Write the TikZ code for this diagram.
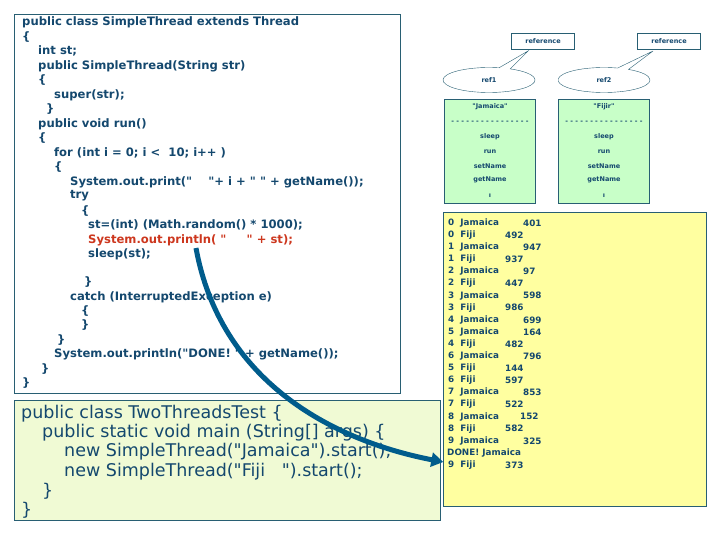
\documentclass[tikz,border=0pt]{standalone}
\usepackage{fontspec}
\newfontfamily\codefont{DejaVu Sans}
\usetikzlibrary{shapes.geometric,shapes.callouts,arrows.meta}
\definecolor{codeblue}{RGB}{20,72,110}
\definecolor{codered}{RGB}{205,55,30}
\definecolor{boxline}{RGB}{40,95,115}
\definecolor{objgreen}{RGB}{200,255,200}
\definecolor{maingreen}{RGB}{240,250,212}
\definecolor{outyellow}{RGB}{255,255,160}
\definecolor{arrowblue}{RGB}{0,92,140}
\tikzset{
  code/.style={anchor=west,inner sep=0,font=\codefont\bfseries\fontsize{11.6}{12}\selectfont,text=codeblue},
  maincode/.style={anchor=west,inner sep=0,font=\codefont\fontsize{17.5}{18}\selectfont,text=codeblue},
  outtxt/.style={anchor=west,inner sep=0,font=\codefont\bfseries\fontsize{8.8}{10}\selectfont,text=codeblue},
  objtxt/.style={inner sep=0,font=\codefont\bfseries\fontsize{6.5}{8}\selectfont,text=codeblue},
  refbox/.style={draw=boxline,fill=white,minimum width=63pt,minimum height=16pt,inner sep=0,font=\codefont\bfseries\fontsize{6.5}{8}\selectfont,text=codeblue},
  refcall/.style={ellipse callout,draw=boxline,fill=white,minimum width=92pt,minimum height=25pt,inner sep=0,font=\codefont\bfseries\fontsize{6.5}{8}\selectfont,text=codeblue},
}
\begin{document}
\begin{tikzpicture}[x=1pt,y=-1pt]
\useasboundingbox (0,0) rectangle (720,540);
% boxes
\draw[boxline,fill=white] (14,14) rectangle (400,393);
\draw[boxline,fill=maingreen] (14,400) rectangle (440,520);
\node[draw=boxline,fill=outyellow,minimum width=263pt,minimum height=294pt,inner sep=0] (out) at (575,359) {};
% SimpleThread class
\node[code] (l1) at (22,22) {public class SimpleThread extends Thread};
\node[code] (l2) at (22,37) {\{};
\node[code] (l3) at (38,51) {int st;};
\node[code] (l4) at (38,66) {public SimpleThread(String str)};
\node[code] (l5) at (38,80) {\{};
\node[code] (l6) at (54,95) {super(str);};
\node[code] (l7) at (46,109) {\}};
\node[code] (l8) at (38,124) {public void run()};
\node[code] (l9) at (38,138) {\{};
\node[code] (l10) at (54,153) {for (int i = 0; i <\ \ 10; i++ )};
\node[code] (l11) at (54,167) {\{};
\node[code] (l12) at (70,182) {System.out.print("\ \ \ \ "+ i + " " + getName());};
\node[code] (l13) at (70,196) {try};
\node[code] (l14) at (81,211) {\{};
\node[code] (l15) at (88,225) {st=(int) (Math.random() * 1000);};
\node[code,text=codered] (l16) at (88,240) {System.out.println( "\ \ \ \ \ " + st);};
\node[code] (l17) at (88,254) {sleep(st);};
\node[code] (l18) at (84,282) {\}};
\node[code] (l19) at (70,297) {catch (InterruptedException e)};
\node[code] (l20) at (81,311) {\{};
\node[code] (l21) at (81,325) {\}};
\node[code] (l22) at (57,340) {\}};
\node[code] (l23) at (54,354) {System.out.println("DONE! " + getName());};
\node[code] (l24) at (41,369) {\}};
\node[code] (l25) at (22,383) {\}};
% TwoThreadsTest class
\node[maincode] (m1) at (21,414) {public class TwoThreadsTest \{};
\node[maincode] (m2) at (42,433) {public static void main (String[] args) \{};
\node[maincode] (m3) at (64,452) {new SimpleThread("Jamaica").start();};
\node[maincode] (m4) at (64,472) {new SimpleThread("Fiji\ \ \ ").start();};
\node[maincode] (m5) at (42,491) {\}};
\node[maincode] (m6) at (21,510) {\}};
% references and objects
\node[refbox] (refA) at (543,41) {reference};
\node[refbox] (refB) at (669,41) {reference};
\node[refcall,callout absolute pointer={(528,51)}] (ref1) at (489,80) {ref1};
\node[refcall,callout absolute pointer={(653,51)}] (ref2) at (604,80) {ref2};
\foreach \n/\cx/\nm in {objA/490/"Jamaica", objB/604/"Fijir"} {
  \node[draw=boxline,fill=objgreen,minimum width=91pt,minimum height=104pt,inner sep=0] (\n) at (\cx,151) {};
  \node[objtxt] at (\cx,107) {\nm};
  \node[objtxt] at (\cx,122) {- - - - - - - - - - - - - - - -};
  \node[objtxt] at (\cx,137) {sleep};
  \node[objtxt] at (\cx,152) {run};
  \node[objtxt] at (\cx,166) {setName};
  \node[objtxt] at (\cx,180) {getName};
  \node[objtxt] at (\cx,196) {ı};
}
% program output
\foreach \k/\i/\nm/\v/\vx [count=\r from 0] in {
  a/0/Jamaica/401/523, b/0/Fiji/492/505, c/1/Jamaica/947/523, d/1/Fiji/937/505,
  e/2/Jamaica/97/523, f/2/Fiji/447/505, g/3/Jamaica/598/523, h/3/Fiji/986/505,
  i/4/Jamaica/699/523, j/5/Jamaica/164/523, k/4/Fiji/482/505, l/6/Jamaica/796/523,
  m/5/Fiji/144/505, n/6/Fiji/597/505, o/7/Jamaica/853/523, p/7/Fiji/522/505,
  q/8/Jamaica/152/520, r/8/Fiji/582/505, s/9/Jamaica/325/523} {
  \node[outtxt] (o\k) at (448,223+12.1*\r) {\i\ \ \nm};
  \node[outtxt] (v\k) at (\vx,223+12.1*\r) {\v};
}
\node[outtxt] (odone) at (447,453) {DONE! Jamaica};
\node[outtxt] (olast) at (448,465) {9\ \ Fiji};
\node[outtxt] (vlast) at (505,465) {373};
% arrow
\coordinate (from) at (196,248);
\draw[arrowblue,line width=5pt,-{Triangle[length=12pt,width=14pt]}] (from) .. controls (220,380) and (330,440) .. (out.west |- 0,462);
\end{tikzpicture}
\end{document}
